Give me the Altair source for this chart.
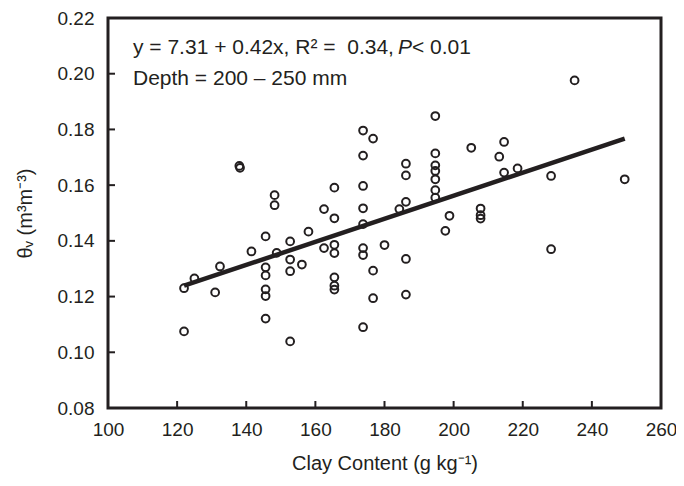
import altair as alt
import pandas as pd

# ---- data ----
clay = [122, 122, 125, 131, 132.4, 138, 138.2, 141.5,
        145.6, 145.6, 145.6, 145.6, 145.6, 145.6,
        148.2, 148.2, 148.8,
        152.7, 152.7, 152.7, 152.7, 156.1, 158, 162.5, 162.5,
        165.5, 165.5, 165.5, 165.5, 165.5, 165.5, 165.5,
        173.8, 173.8, 173.8, 173.8, 173.8, 173.8, 173.8, 173.8,
        176.7, 176.7, 176.7, 180, 184.3,
        186.2, 186.2, 186.2, 186.2, 186.2,
        194.7, 194.7, 194.7, 194.7, 194.7, 194.7, 194.7,
        197.6, 198.8, 205.1, 207.8, 207.8, 207.8,
        213.2, 214.6, 214.6, 218.5, 228.2, 228.2, 235, 249.5]
theta = [0.1230, 0.1075, 0.1265, 0.1215, 0.1308, 0.1669, 0.1662, 0.1362,
         0.1416, 0.1305, 0.1276, 0.1226, 0.1202, 0.1121,
         0.1564, 0.1528, 0.1357,
         0.1398, 0.1333, 0.1291, 0.1039, 0.1315, 0.1433, 0.1514, 0.1374,
         0.1591, 0.1481, 0.1386, 0.1356, 0.1269, 0.1239, 0.1225,
         0.1796, 0.1706, 0.1597, 0.1517, 0.1460, 0.1374, 0.1349, 0.1090,
         0.1767, 0.1293, 0.1194, 0.1385, 0.1514,
         0.1677, 0.1635, 0.1540, 0.1335, 0.1207,
         0.1848, 0.1714, 0.1671, 0.1651, 0.1621, 0.1582, 0.1555,
         0.1436, 0.1490, 0.1734, 0.1516, 0.1492, 0.1480,
         0.1702, 0.1755, 0.1645, 0.1660, 0.1633, 0.1370, 0.1976, 0.1621]

fit_x = [122, 249.5]
fit_y = [0.1239, 0.1767]

x_label_values = [100, 120, 140, 160, 180, 200, 220, 240, 260]
y_label_values = [0.08, 0.10, 0.12, 0.14, 0.16, 0.18, 0.20, 0.22]
x_inner_ticks = [120, 140, 160, 180, 200, 220, 240]
y_inner_ticks = [0.10, 0.12, 0.14, 0.16, 0.18, 0.20]

eq_main = "y = 7.31 + 0.42x, R\u00b2 =\u00a0 0.34,"
eq_p = "P"
eq_tail = "< 0.01"
depth_text = "Depth = 200 \u2013 250 mm"
x_title = "Clay Content (g kg\u207b\u00b9)"
y_title = "\u03b8\u1d65 (m\u00b3m\u207b\u00b3)"

# ---- styling ----
W, H = 553, 390
FONT = "Liberation Sans"
INK = "#231f20"
FS = 21

xs = alt.Scale(domain=[100, 260], nice=False, zero=False)
ys = alt.Scale(domain=[0.08, 0.22], nice=False, zero=False)

x_axis = alt.Axis(values=x_label_values, title=x_title, labelPadding=12,
                  titlePadding=14, labelFlush=False)
y_axis = alt.Axis(values=y_label_values, format=".2f", title=y_title,
                  labelPadding=14, titlePadding=22, labelFlush=False)

pts = pd.DataFrame({"clay": clay, "theta": theta})
fit = pd.DataFrame({"clay": fit_x, "theta": fit_y})

points = alt.Chart(pts).mark_point(
    shape="circle", filled=False, color=INK, strokeWidth=2, size=60, opacity=1
).encode(
    x=alt.X("clay:Q", scale=xs, axis=x_axis),
    y=alt.Y("theta:Q", scale=ys, axis=y_axis),
)

line = alt.Chart(fit).mark_line(color=INK, strokeWidth=4.5).encode(
    x=alt.X("clay:Q", scale=xs, axis=x_axis),
    y=alt.Y("theta:Q", scale=ys, axis=y_axis),
)

xt = alt.Chart(pd.DataFrame({"clay": x_inner_ticks})).mark_rule(color=INK, strokeWidth=2).encode(
    x=alt.X("clay:Q", scale=xs, axis=x_axis), y=alt.value(H), y2=alt.value(H - 7)
)
yt = alt.Chart(pd.DataFrame({"theta": y_inner_ticks})).mark_rule(color=INK, strokeWidth=2).encode(
    y=alt.Y("theta:Q", scale=ys, axis=y_axis), x=alt.value(0), x2=alt.value(7)
)

def label(txt, x, y, style="normal"):
    return alt.Chart(pd.DataFrame({"t": [txt]})).mark_text(
        align="left", baseline="middle", font=FONT, fontSize=FS, color=INK,
        fontStyle=style, x=x, y=y
    ).encode(text="t:N")

t1 = label(eq_main, 25, 30)
t2 = label(eq_p, 290, 30, "italic")
t3 = label(eq_tail, 304, 30)
t4 = label(depth_text, 25, 61)

chart = alt.layer(points, line, xt, yt, t1, t2, t3, t4).properties(
    width=W, height=H,
    autosize=alt.AutoSizeParams(type="none"),
    padding={"left": 100, "top": 10, "right": 15, "bottom": 69},
).configure_view(
    stroke=INK, strokeWidth=3
).configure_axis(
    domain=False, ticks=False, grid=False,
    labelFont=FONT, labelFontSize=19, labelColor=INK,
    titleFont=FONT, titleFontSize=20, titleFontWeight="normal", titleColor=INK,
)

chart.save("out.html", embed_options={"renderer": "svg", "actions": False})
